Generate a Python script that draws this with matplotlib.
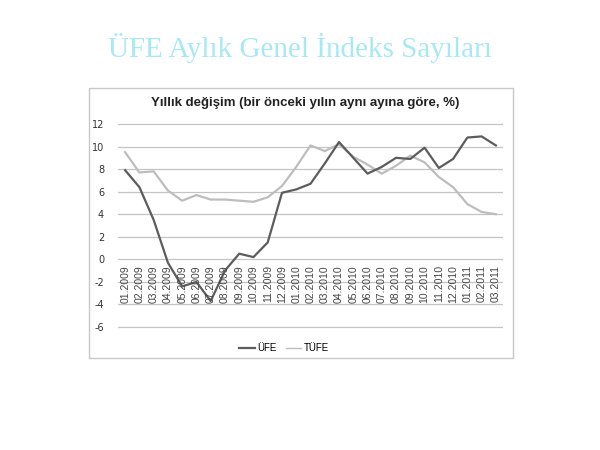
import matplotlib
matplotlib.use('Agg')
import matplotlib.pyplot as plt
from matplotlib.patches import Rectangle
from matplotlib.lines import Line2D

plt.rcParams['axes.unicode_minus'] = False

# data
months = ['01.2009', '02.2009', '03.2009', '04.2009', '05.2009', '06.2009',
          '07.2009', '08.2009', '09.2009', '10.2009', '11.2009', '12.2009',
          '01.2010', '02.2010', '03.2010', '04.2010', '05.2010', '06.2010',
          '07.2010', '08.2010', '09.2010', '10.2010', '11.2010', '12.2010',
          '01.2011', '02.2011', '03.2011']
ufe = [7.9, 6.4, 3.5, -0.3, -2.4, -2.0, -3.7, -1.0, 0.5, 0.2, 1.5, 5.9,
       6.2, 6.7, 8.5, 10.4, 9.0, 7.6, 8.2, 9.0, 8.9, 9.9, 8.1, 8.9,
       10.8, 10.9, 10.1]
tufe = [9.5, 7.7, 7.8, 6.1, 5.2, 5.7, 5.3, 5.3, 5.2, 5.1, 5.5, 6.5,
        8.2, 10.1, 9.6, 10.2, 9.1, 8.4, 7.6, 8.3, 9.2, 8.6, 7.3, 6.4,
        4.9, 4.2, 4.0]

W, H = 600, 450
fig = plt.figure(figsize=(6, 4.5), dpi=100)

# page title
fig.text(300/W, 1 - 48/H, 'ÜFE Aylık Genel İndeks Sayıları',
         family='Liberation Serif', fontsize=21, color='#a6e9f5',
         ha='center', va='center')

# chart frame
fig.patches.append(Rectangle((89/W, 1 - 358/H), (513 - 89)/W, (358 - 88)/H,
                             transform=fig.transFigure, fill=False,
                             edgecolor='#c8c8c8', linewidth=1.0))

fig.text(305/W, 1 - 103/H, 'Yıllık değişim (bir önceki yılın aynı ayına göre, %)',
         family='Liberation Sans', fontweight='bold', fontsize=9.5,
         color='#222222', ha='center', va='center')

# axes: y=12 at 124px, y=-6 at 327px, with a little slack so edge grid lines show
ppu = (327 - 124) / 18.0
ax = fig.add_axes([118/W, 1 - (327 + 0.2*ppu)/H, (503 - 118)/W, (18.4*ppu)/H])
x = list(range(len(months)))
ax.plot(x, ufe, color='#5c5c5c', linewidth=1.6, label='ÜFE', zorder=3)
ax.plot(x, tufe, color='#bdbdbd', linewidth=1.6, label='TÜFE', zorder=2)

ax.set_xlim(-0.5, len(months) - 0.5)
ax.set_ylim(-6.2, 12.2)
ax.set_yticks(range(-6, 13, 2))
ax.grid(axis='y', color='#c4c4c4', linewidth=0.9)
ax.set_axisbelow(True)
for s in ax.spines.values():
    s.set_visible(False)
ax.tick_params(axis='y', length=0, labelsize=7, labelcolor='#333333', pad=10)
ax.set_xticks([])

# category labels sit under the zero line
for i, m in enumerate(months):
    ax.text(i, -0.5, m, rotation=90, ha='center', va='top', fontsize=7.5,
            color='#444444', family='Liberation Sans')

handles = [Line2D([], [], color='#5c5c5c', linewidth=1.6),
           Line2D([], [], color='#bdbdbd', linewidth=1.0)]
fig.legend(handles, ['ÜFE', 'TÜFE'], loc='center', bbox_to_anchor=(284/W, 1 - 348/H),
           ncol=2, frameon=False, handlelength=1.6,
           handletextpad=0.2, columnspacing=1.0,
           prop={'family': 'Liberation Sans', 'size': 7})

fig.savefig('out.png', dpi=100)
